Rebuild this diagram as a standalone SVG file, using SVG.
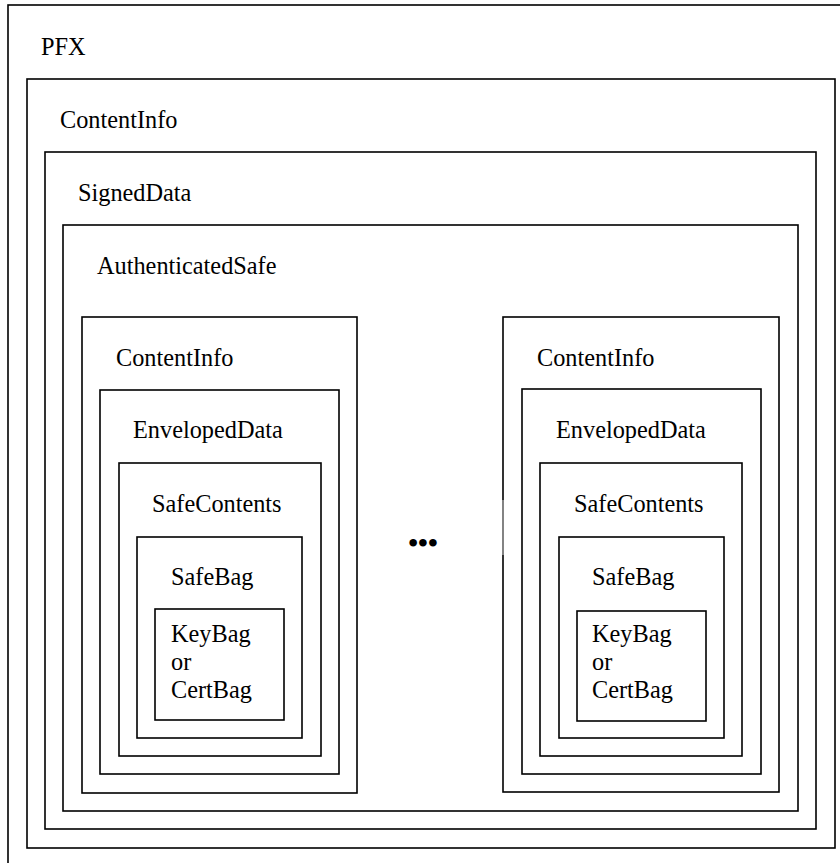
<svg xmlns="http://www.w3.org/2000/svg" width="840" height="863" viewBox="0 0 840 863">
<style>
  rect.b { fill: none; stroke: #000; stroke-width: 1.6; }
  text { font-family: "Liberation Serif", "Times New Roman", Times, "DejaVu Serif", serif; font-size: 24.3px; fill: #000; }
</style>
<rect x="0" y="0" width="840" height="863" fill="#fff"/>
<g font-family="Liberation Serif, Times New Roman, serif">
<g id="pfx"><rect class="b" x="8" y="5" width="850" height="880"/><text x="41" y="55">PFX</text></g>
<g id="contentinfo"><rect class="b" x="27" y="79" width="808" height="769"/><text x="60" y="128">ContentInfo</text></g>
<g id="signeddata"><rect class="b" x="45" y="152" width="771" height="677"/><text x="78" y="201">SignedData</text></g>
<g id="authsafe"><rect class="b" x="63" y="225" width="735" height="586"/><text x="97" y="274">AuthenticatedSafe</text></g>

<g id="ci-left"><rect class="b" x="82" y="317" width="275" height="476"/><text x="116" y="366">ContentInfo</text></g>
<g id="env-left"><rect class="b" x="100" y="390" width="239" height="384"/><text x="133" y="438">EnvelopedData</text></g>
<g id="sc-left"><rect class="b" x="119" y="463" width="202" height="293"/><text x="152" y="512">SafeContents</text></g>
<g id="sb-left"><rect class="b" x="137" y="537" width="165" height="201"/><text x="171" y="585">SafeBag</text></g>
<g id="kb-left"><rect class="b" x="155" y="609" width="129" height="111"/><text x="171" y="642">KeyBag</text><text x="171" y="670">or</text><text x="171" y="698">CertBag</text></g>

<g id="ci-right"><rect class="b" x="503" y="317" width="276" height="475"/><line x1="503" y1="500" x2="503" y2="555" stroke="#fff" stroke-width="0.8"/><text x="537" y="366">ContentInfo</text></g>
<g id="env-right"><rect class="b" x="522" y="389" width="239" height="385"/><text x="556" y="438">EnvelopedData</text></g>
<g id="sc-right"><rect class="b" x="540" y="463" width="202" height="293"/><text x="574" y="512">SafeContents</text></g>
<g id="sb-right"><rect class="b" x="559" y="537" width="165" height="201"/><text x="592" y="585">SafeBag</text></g>
<g id="kb-right"><rect class="b" x="577" y="611" width="129" height="110"/><text x="592" y="642">KeyBag</text><text x="592" y="670">or</text><text x="592" y="698">CertBag</text></g>

<g id="ellipsis"><text x="423" y="552" text-anchor="middle" font-weight="bold" style="font-size:28px">•••</text></g>
</g>
<g id="connectors"></g>
</svg>
